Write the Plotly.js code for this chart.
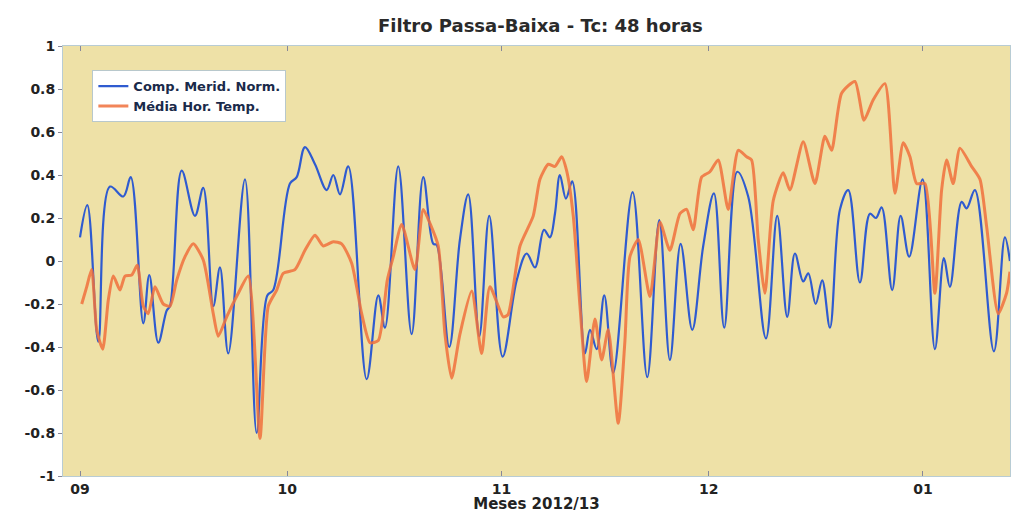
<!DOCTYPE html>
<html>
<head>
<meta charset="utf-8">
<script src="https://cdn.plot.ly/plotly-3.0.1.min.js"></script>
<style>html,body{margin:0;padding:0;background:#fff}#chart{width:1012px;height:513px}</style>
</head>
<body>
<div id="chart"></div>
<script>
// Days since 2012-09-01 and values
const blueDays = [0,1.06,2.65,4.34,6.27,7.34,9.16,10.03,11.33,12.55,13.02,14.72,16.64,17.84,19.29,20.26,21.46,23.88,25.57,27.11,27.97,30.39,31.36,32.56,34.01,35.70,36.66,37.63,38.83,41.49,43.17,44.14,46.06,48.00,49.68,51.13,51.62,53.44,54.99,56.19,57.79,59.23,61.17,63.20,64.65,65.85,67.15,68.02,68.74,69.46,70.33,71.24,73.08,73.81,74.78,75.88,77.18,79.98,82.10,83.84,85.38,86.93,88.61,90.20,91.75,93.24,95.12,96.71,99.28,100.91,102.36,103.47,104.67,105.40,106.47,107.42,108.54,109.99,111.19,112.88,114.33,115.20,116.02,117.55,118.77,120.01,121.95,123.73,125.04,125.90,127.60,128.32,129.52,132.27,133.86,134.59];
const blueVals = [0.11,0.26,-0.375,0.346,0.30,0.39,-0.29,-0.065,-0.38,-0.23,-0.21,0.42,0.21,0.34,-0.21,-0.03,-0.43,0.38,-0.80,-0.16,-0.135,0.36,0.39,0.53,0.45,0.33,0.40,0.31,0.44,-0.55,-0.16,-0.31,0.44,-0.34,0.39,0.08,0.075,-0.40,0.10,0.31,-0.35,0.21,-0.445,-0.09,0.035,-0.03,0.145,0.11,0.22,0.40,0.29,0.37,-0.43,-0.32,-0.41,-0.16,-0.52,0.32,-0.54,0.19,-0.46,0.08,-0.32,0.07,0.315,-0.31,0.415,0.30,-0.36,0.21,-0.26,0.035,-0.095,-0.057,-0.20,-0.09,-0.31,0.24,0.33,-0.10,0.22,0.20,0.25,-0.135,0.21,0.02,0.38,-0.41,0.013,-0.12,0.275,0.245,0.33,-0.42,0.11,0.0];

const orangeDays = [0.25,0.97,1.69,2.42,3.29,4.10,4.82,5.79,6.51,7.48,8.29,9.16,9.88,10.85,12.05,13.02,13.99,15.20,16.40,17.84,19.29,20.01,21.23,22.91,24.36,26.05,27.25,28.47,29.42,31.11,32.56,34.01,35.21,36.66,37.87,39.32,40.77,41.97,43.17,44.47,45.34,46.56,48.48,49.68,50.65,51.85,52.82,53.79,54.99,56.69,58.13,59.33,61.26,61.94,63.68,65.60,66.57,67.77,68.74,69.71,70.43,71.39,72.36,73.33,74.53,75.50,76.45,77.90,78.87,79.59,80.80,82.49,83.94,85.38,86.83,87.80,88.75,89.97,91.17,92.37,93.82,95.27,96.48,97.20,98.16,99.13,100.33,101.78,102.75,104.67,106.37,107.81,108.78,110.23,112.16,113.46,114.81,116.50,117.95,119.15,120.12,121.09,122.29,123.73,124.70,125.42,126.38,127.35,129.04,130.25,131.22,132.89,134.10,134.59];
const orangeVals = [-0.20,-0.12,-0.04,-0.32,-0.41,-0.18,-0.07,-0.135,-0.07,-0.065,-0.02,-0.21,-0.245,-0.12,-0.20,-0.21,-0.09,0.02,0.08,0.005,-0.245,-0.35,-0.26,-0.15,-0.07,-0.825,-0.21,-0.135,-0.057,-0.04,0.05,0.12,0.07,0.09,0.08,-0.01,-0.245,-0.38,-0.37,-0.09,0.02,0.17,-0.04,0.24,0.175,0.07,-0.34,-0.545,-0.34,-0.14,-0.43,-0.12,-0.26,-0.25,0.07,0.21,0.38,0.45,0.44,0.485,0.42,0.21,-0.21,-0.56,-0.27,-0.46,-0.32,-0.755,-0.37,0.02,0.10,-0.165,0.18,0.05,0.22,0.24,0.145,0.39,0.415,0.47,0.24,0.515,0.485,0.47,0.10,-0.15,0.28,0.41,0.33,0.555,0.36,0.58,0.515,0.78,0.835,0.655,0.75,0.825,0.315,0.55,0.485,0.36,0.36,-0.15,0.33,0.47,0.36,0.525,0.44,0.38,0.16,-0.245,-0.15,-0.05];

const monthTicks = ['2012-09-01','2012-10-01','2012-11-01','2012-12-01','2013-01-01'];
const monthLabels = ['09','10','11','12','01'];
const yTicks = [-1,-0.8,-0.6,-0.4,-0.2,0,0.2,0.4,0.6,0.8,1];
const yLabels = ['-1','-0.8','-0.6','-0.4','-0.2','0','0.2','0.4','0.6','0.8','1'];

const base = Date.UTC(2012, 8, 1);
function toDate(d) {
  const t = new Date(base + d * 86400000);
  return t.toISOString().slice(0, 19).replace('T', ' ');
}

const traces = [
  {
    x: blueDays.map(toDate), y: blueVals, type: 'scatter', mode: 'lines',
    name: 'Comp. Merid. Norm.',
    line: {color: '#2f5bd0', width: 2.2, shape: 'spline', smoothing: 1}
  },
  {
    x: orangeDays.map(toDate), y: orangeVals, type: 'scatter', mode: 'lines',
    name: 'Média Hor. Temp.',
    line: {color: '#f0703c', width: 3, shape: 'spline', smoothing: 0.6},
    opacity: 0.85
  }
];

const FONT = 'DejaVu Sans, Verdana, sans-serif';
const layout = {
  width: 1012, height: 513,
  margin: {l: 63, r: 2, t: 46, b: 37},
  paper_bgcolor: '#ffffff',
  plot_bgcolor: '#eee1a7',
  font: {family: FONT, size: 14, color: '#222', weight: 'bold'},
  title: {text: 'Filtro Passa-Baixa - Tc: 48 horas', x: 0.534, xanchor: 'center', y: 0.949, yanchor: 'middle',
          font: {family: FONT, size: 18, color: '#2a2a2a', weight: 'bold'}},
  showlegend: true,
  legend: {x: 0.031, y: 0.944, xanchor: 'left', yanchor: 'top',
           bgcolor: '#ffffff', bordercolor: '#b8c8cc', borderwidth: 1,
           font: {family: FONT, size: 13, color: '#1a2a4a', weight: 'bold'}, tracegroupgap: 0, itemwidth: 30},
  xaxis: {
    type: 'date',
    range: [toDate(-2.46), toDate(134.6)],
    tickvals: monthTicks, ticktext: monthLabels,
    ticks: 'inside', ticklen: 5, tickcolor: '#889',
    showgrid: false, zeroline: false,
    showline: true, linecolor: '#b8ccd4', mirror: 'ticks',
    tickfont: {family: FONT, size: 14, color: '#222', weight: 'bold'},
    title: {text: 'Meses 2012/13', standoff: 0, font: {family: FONT, size: 15, color: '#222', weight: 'bold'}}
  },
  yaxis: {
    range: [-1, 1],
    tickvals: yTicks, ticktext: yLabels,
    ticks: 'outside', ticklen: 4, tickcolor: '#889',
    showgrid: false, zeroline: false,
    showline: true, linecolor: '#b8ccd4', mirror: true,
    tickfont: {family: FONT, size: 14, color: '#222', weight: 'bold'}
  }
};

Plotly.newPlot('chart', traces, layout, {displayModeBar: false, staticPlot: true});
</script>
</body>
</html>
